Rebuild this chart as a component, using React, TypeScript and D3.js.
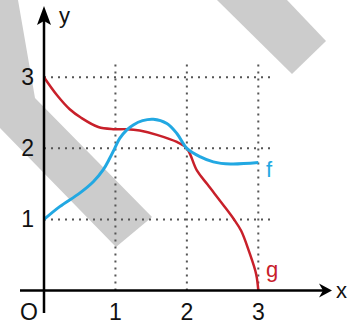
import React from 'react'
import * as d3 from 'd3'

// f (blue)
const fX = [0, 0.22, 0.5, 0.69, 0.83, 0.92, 0.99, 1.06, 1.16, 1.25, 1.38, 1.53, 1.72, 1.86, 2.0, 2.19, 2.37, 2.61, 3.0]
const fY = [1, 1.18, 1.37, 1.53, 1.7, 1.86, 2.0, 2.14, 2.26, 2.33, 2.39, 2.41, 2.35, 2.21, 2.0, 1.88, 1.81, 1.78, 1.8]

// g (red)
const gX = [0, 0.18, 0.36, 0.52, 0.76, 0.97, 1.16, 1.34, 1.58, 1.86, 2.0, 2.14, 2.29, 2.52, 2.66, 2.76, 2.87, 2.97, 3.0]
const gY = [3, 2.75, 2.55, 2.43, 2.3, 2.27, 2.27, 2.25, 2.19, 2.09, 2.0, 1.69, 1.49, 1.19, 1.0, 0.84, 0.55, 0.23, 0]

const xTicks = [1, 2, 3]
const yTicks = [1, 2, 3]

const W = 348
const H = 328
const RED = '#c8202a'
const BLUE = '#22a8e2'

const App = () => {
  const x = d3.scaleLinear().domain([0, 3]).range([44, 258.3])
  const y = d3.scaleLinear().domain([0, 3]).range([290.5, 77.3])

  const line = d3
    .line<[number, number]>()
    .x((d) => x(d[0]))
    .y((d) => y(d[1]))
    .curve(d3.curveCatmullRom.alpha(0.5))

  const fPts = fX.map((v, i) => [v, fY[i]] as [number, number])
  const gPts = gX.map((v, i) => [v, gY[i]] as [number, number])

  const x0 = x(0)
  const y0 = y(0)
  const font = 'Liberation Sans, Arial, sans-serif'

  return (
    <svg
      width={W}
      height={H}
      style={{ position: 'absolute', left: 0, top: 0, background: '#fff' }}
    >
      {/* watermark bands */}
      <polygon points="0,0 18,0 35,98 152,217 116,247 0,128" fill="#cccccc" />
      <polygon points="217,0 287,0 326,41 292,74" fill="#cccccc" />

      {/* dotted grid */}
      <g stroke="#555" strokeWidth={2} strokeDasharray="2 5">
        {xTicks.map((t) => (
          <line key={'vx' + t} x1={x(t)} x2={x(t)} y1={y0} y2={y(3.2)} />
        ))}
        {yTicks.map((t) => (
          <line key={'hy' + t} x1={x0} x2={x(3.2)} y1={y(t)} y2={y(t)} />
        ))}
      </g>

      {/* curves */}
      <path d={line(gPts) || ''} fill="none" stroke={RED} strokeWidth={2.5} />
      <path d={line(fPts) || ''} fill="none" stroke={BLUE} strokeWidth={3} />

      {/* axes */}
      <line x1={20} x2={324} y1={y0} y2={y0} stroke="#000" strokeWidth={2.5} />
      <line x1={x0} x2={x0} y1={313} y2={20} stroke="#000" strokeWidth={2.5} />
      <polygon
        points={`${x0},6 ${x0 - 7},25 ${x0},21 ${x0 + 7},25`}
        fill="#000"
      />
      <polygon
        points={`332,${y0} 319,${y0 - 7} 323,${y0} 319,${y0 + 7}`}
        fill="#000"
      />

      {/* labels */}
      <g fontFamily={font} fontSize={23} fill="#111">
        {xTicks.map((t) => (
          <text key={'xl' + t} x={x(t)} y={320} textAnchor="middle">
            {t}
          </text>
        ))}
        {yTicks.map((t) => (
          <text key={'yl' + t} x={34} y={y(t) + 8} textAnchor="end">
            {t}
          </text>
        ))}
        <text x={29} y={320} textAnchor="middle">O</text>
        <text x={59} y={23} fontSize={22}>y</text>
        <text x={336} y={298} fontSize={22}>x</text>
        <text x={266} y={177} fontSize={22} fill={BLUE}>f</text>
        <text x={266} y={277} fontSize={22} fill={RED}>g</text>
      </g>
    </svg>
  )
}

export default App
